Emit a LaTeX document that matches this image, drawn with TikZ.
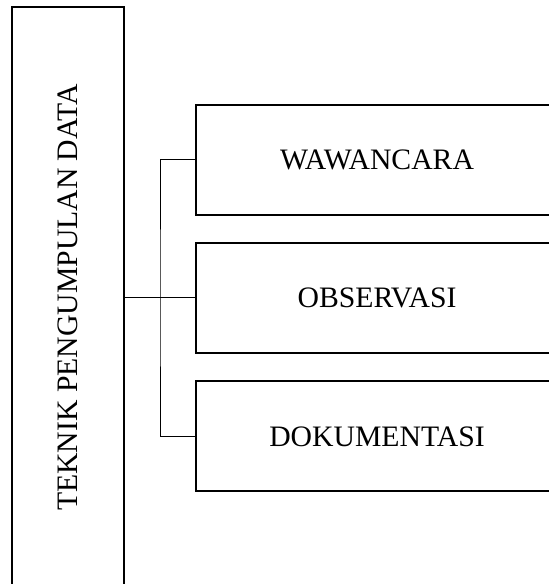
\documentclass[tikz,border=0pt]{standalone}
\usepackage{fontspec}
\setmainfont{Liberation Serif}
\begin{document}
\begin{tikzpicture}[x=1pt,y=1pt,
  boxst/.style={draw=black,line width=2pt,inner sep=0pt,font=\fontsize{29.7}{35}\selectfont},
  conn/.style={draw=black,line width=1pt}]
\useasboundingbox (0,0) rectangle (549,584);
\clip (0,0) rectangle (549,584);
\node[boxst,rotate=90,minimum width=580,minimum height=112] (left) at (68,286.5) {TEKNIK PENGUMPULAN DATA};
\node[boxst,minimum width=362,minimum height=110] (b1) at (377,424) {WAWANCARA};
\node[boxst,minimum width=362,minimum height=110] (b2) at (377,286) {OBSERVASI};
\node[boxst,minimum width=362,minimum height=110] (b3) at (377,147.5) {DOKUMENTASI};
\coordinate (bus) at (160,286);
\draw[conn] (b1.west) -| (bus) |- (b3.west);
\draw[conn] (left.south |- b2.west) -- (b2.west);
\end{tikzpicture}
\end{document}
